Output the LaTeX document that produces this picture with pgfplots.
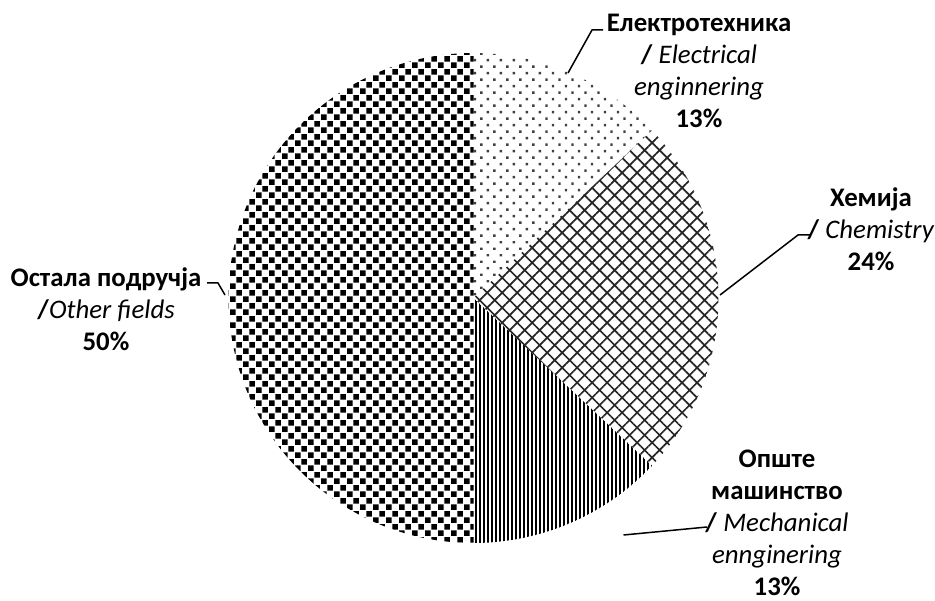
\documentclass[border=0pt]{standalone}
\usepackage{fontspec}
\setmainfont{Carlito}
\usepackage{pgfplots}
\pgfplotsset{compat=1.18}
\usepackage{pgfplotstable}
\usetikzlibrary{patterns,patterns.meta}

\pgfdeclarepatternformonly{confetti}{\pgfpointorigin}{\pgfpoint{6.4pt}{6.4pt}}{\pgfpoint{6.4pt}{6.4pt}}{%
  \pgfpathrectangle{\pgfpoint{0pt}{0pt}}{\pgfpoint{2.8pt}{2.8pt}}%
  \pgfpathrectangle{\pgfpoint{3.2pt}{3.2pt}}{\pgfpoint{2.8pt}{2.8pt}}%
  \pgfusepath{fill}}

% shares of the fields, in per cent, clockwise from the top
\pgfplotstableread{
field share
Electrical 13
Chemistry 24
Mechanical 13
Other 50
}\pietable

\tikzset{lbl/.style={font=\fontsize{13.4}{16}\selectfont, align=center, inner sep=0pt}}

\begin{document}%
\begin{tikzpicture}
\pgfplotstablegetelem{0}{share}\of\pietable \let\sA\pgfplotsretval
\pgfplotstablegetelem{1}{share}\of\pietable \let\sB\pgfplotsretval
\pgfplotstablegetelem{2}{share}\of\pietable \let\sC\pgfplotsretval
\pgfplotstablegetelem{3}{share}\of\pietable \let\sD\pgfplotsretval
\pgfmathsetmacro{\aA}{90}
\pgfmathsetmacro{\aB}{\aA-3.6*\sA}
\pgfmathsetmacro{\aC}{\aB-3.6*\sB}
\pgfmathsetmacro{\aD}{\aC-3.6*\sC}
\pgfmathsetmacro{\aE}{\aD-3.6*\sD}
\begin{axis}[
  x=0.5pt, y=0.5pt,
  xmin=-473.5, xmax=461.5, ymin=-302, ymax=298,
  hide axis, clip=false,
]
\path (rel axis cs:0,0) rectangle (rel axis cs:1,1);
% wedges
\addplot[draw=none, pattern={Dots[angle=45, distance=4.6pt, radius=0.85pt]}, pattern color=black!75, data cs=polar]
  coordinates {(0,0) (\aA,245)} arc[start angle=\aA, end angle=\aB, radius=122.5pt] -- cycle;
\addplot[draw=none, pattern={Hatch[angle=45, distance=5.3pt, line width=0.85pt]}, pattern color=black!85, data cs=polar]
  coordinates {(0,0) (\aB,245)} arc[start angle=\aB, end angle=\aC, radius=122.5pt] -- cycle;
\addplot[draw=none, pattern={Lines[angle=90, distance=2pt, line width=0.95pt]}, pattern color=black, data cs=polar]
  coordinates {(0,0) (\aC,245)} arc[start angle=\aC, end angle=\aD, radius=122.5pt] -- cycle;
\addplot[draw=none, pattern=confetti, pattern color=black, data cs=polar]
  coordinates {(0,0) (\aD,245)} arc[start angle=\aD, end angle=\aE, radius=122.5pt] -- cycle;
% leader lines
\addplot[black, line width=0.75pt, mark=none] coordinates {(94.5,225) (118.5,268) (129.5,268)};
\addplot[black, line width=0.75pt, mark=none] coordinates {(246.5,3) (324.5,63) (336.5,63)};
\addplot[black, line width=0.75pt, mark=none] coordinates {(150,-237) (233.5,-229)};
\addplot[black, line width=0.75pt, mark=none] coordinates {(-248.5,3) (-255.5,15) (-266.5,15)};
% labels
\node[lbl] at (axis cs:225.5,227.5) {\textbf{Електротехника}\\\textbf{/} \textit{Electrical}\\\textit{enginnering}\\\textbf{13\%}};
\node[lbl] at (axis cs:397.5,69) {\textbf{Хемија}\\\textbf{/} \textit{Chemistry}\\\textbf{24\%}};
\node[lbl] at (axis cs:303.5,-225) {\textbf{Опште}\\\textbf{машинство}\\\textbf{/} \textit{Mechanical}\\\textit{ennginering}\\\textbf{13\%}};
\node[lbl] at (axis cs:-367.5,-11) {\textbf{Остала подручја}\\\textbf{/}\textit{Other fields}\\\textbf{50\%}};
\end{axis}
\end{tikzpicture}%
\end{document}
